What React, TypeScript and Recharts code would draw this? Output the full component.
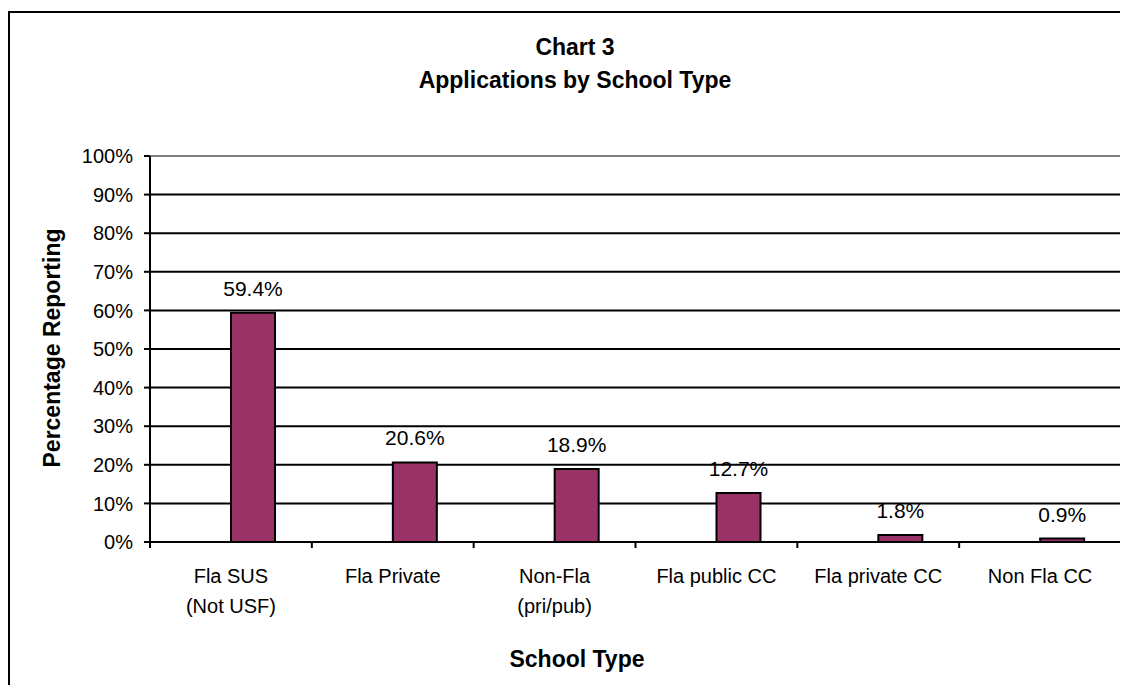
import React from 'react';
import { BarChart, Bar, XAxis, YAxis, CartesianGrid, LabelList, ReferenceLine } from 'recharts';

const categories = ['Fla SUS\n(Not USF)', 'Fla Private', 'Non-Fla\n(pri/pub)', 'Fla public CC', 'Fla private CC', 'Non Fla CC'];
const values = [59.4, 20.6, 18.9, 12.7, 1.8, 0.9];
const yTicks = [0, 10, 20, 30, 40, 50, 60, 70, 80, 90, 100];
const titleLines = ['Chart 3', 'Applications by School Type'];
const xTitle = 'School Type';
const yTitle = 'Percentage Reporting';

const data = categories.map((c, i) => ({ name: c, pct: values[i] }));

const FONT = '"Liberation Sans", Arial, sans-serif';
const CHART_W = 1120;
const CHART_H = 677;
const MARGIN = { top: 148, right: 7, bottom: 0, left: 0 };
const Y_W = 142;
const X_H = CHART_H - 534;
const PLOT_W = CHART_W - MARGIN.right - MARGIN.left - Y_W;
const HALF = PLOT_W / categories.length / 2;

const XTick = (props: any) => {
  const { x, y, payload, index } = props;
  const lines = String(payload.value).split('\n');
  return (
    <g>
      <line x1={x - HALF} x2={x - HALF} y1={y} y2={y + 6} stroke="#000" strokeWidth={2} />
      {index === categories.length - 1 && (
        <line x1={x + HALF} x2={x + HALF} y1={y} y2={y + 6} stroke="#000" strokeWidth={2} />
      )}
      <text x={x} y={y + 41} textAnchor="middle" fontSize={20} fill="#000" fontFamily={FONT}>
        {lines.map((l, i) => (
          <tspan key={i} x={x} dy={i === 0 ? 0 : 30}>{l}</tspan>
        ))}
      </text>
    </g>
  );
};

export default function App() {
  return (
    <div style={{ position: 'relative', width: CHART_W, height: CHART_H, fontFamily: FONT }}>
      <style>{'html,body{overflow:hidden}'}</style>
      <div
        style={{
          position: 'absolute',
          left: 0,
          top: 3,
          width: 1200,
          height: 700,
          borderTop: '2px solid #000',
          borderLeft: '2px solid #000',
        }}
      />
      <div style={{ position: 'absolute', left: 0, top: 0 }}>
        <BarChart
          width={CHART_W}
          height={CHART_H}
          data={data}
          margin={MARGIN}
          barGap={0}
          barSize={44}
          style={{ fontFamily: FONT }}
        >
          <CartesianGrid vertical={false} stroke="#000" strokeWidth={2} />
          <CartesianGrid
            horizontal={false}
            stroke="#808080"
            strokeWidth={2}
            verticalCoordinatesGenerator={({ offset }: any) => [offset.left + offset.width]}
          />
          <ReferenceLine y={100} stroke="#808080" strokeWidth={2} />
          <XAxis
            dataKey="name"
            interval={0}
            height={X_H}
            tickLine={false}
            tickSize={0}
            tickMargin={0}
            axisLine={{ stroke: '#000', strokeWidth: 2 }}
            tick={<XTick />}
          />
          <YAxis
            width={Y_W}
            domain={[0, 100]}
            ticks={yTicks}
            interval={0}
            tickFormatter={(v: number) => `${v}%`}
            tickSize={6}
            tickMargin={11}
            tick={{ fontSize: 20, fill: '#000', fontFamily: FONT }}
            tickLine={{ stroke: '#000', strokeWidth: 2 }}
            axisLine={{ stroke: '#000', strokeWidth: 2 }}
          />
          <Bar dataKey="blank" fill="#ffffff" isAnimationActive={false} />
          <Bar dataKey="pct" fill="#993366" stroke="#000" strokeWidth={2} isAnimationActive={false}>
            <LabelList
              dataKey="pct"
              position="top"
              offset={17}
              formatter={(v: any) => `${Number(v).toFixed(1)}%`}
              style={{ fontSize: 21, fill: '#000', fontFamily: FONT }}
            />
          </Bar>
        </BarChart>
      </div>
      <svg
        width={CHART_W}
        height={CHART_H}
        style={{ position: 'absolute', left: 0, top: 0, pointerEvents: 'none' }}
      >
        <text x={567} y={47} textAnchor="middle" fontSize={23} fontWeight="bold" fill="#000" fontFamily={FONT}>
          {titleLines[0]}
        </text>
        <text x={567} y={80} textAnchor="middle" fontSize={23} fontWeight="bold" fill="#000" fontFamily={FONT}>
          {titleLines[1]}
        </text>
        <text x={569} y={659} textAnchor="middle" fontSize={23} fontWeight="bold" fill="#000" fontFamily={FONT}>
          {xTitle}
        </text>
        <text
          x={52}
          y={340}
          transform="rotate(-90, 52, 340)"
          textAnchor="middle"
          fontSize={23}
          fontWeight="bold"
          fill="#000"
          fontFamily={FONT}
        >
          {yTitle}
        </text>
      </svg>
    </div>
  );
}
